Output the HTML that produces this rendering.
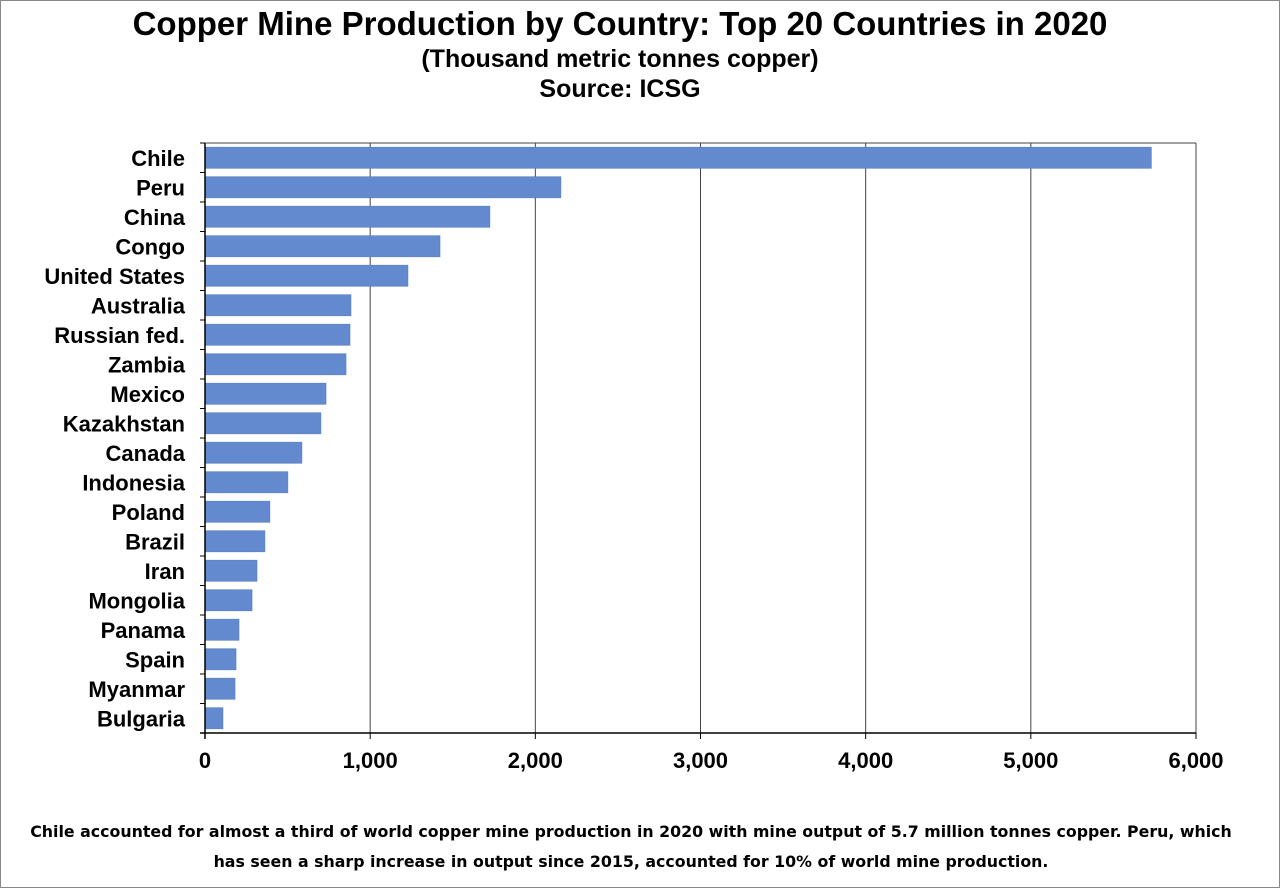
<!DOCTYPE html>
<html><head><meta charset="utf-8"><style>
html,body{margin:0;padding:0;background:#fff;}
body{width:1280px;height:888px;position:relative;overflow:hidden;font-family:"Liberation Sans",Arial,sans-serif;}
.frame{position:absolute;left:0;top:0;width:1278px;height:886px;border:1px solid #888;}
.t{position:absolute;left:0;width:1240px;text-align:center;font-weight:bold;color:#000;}
.foot{position:absolute;left:0;width:1262px;top:817px;text-align:center;font-family:"DejaVu Sans","Liberation Sans",sans-serif;font-weight:bold;font-size:15.8px;line-height:30px;}
</style></head><body>
<div class="frame"></div>
<div class="t" style="top:5px;font-size:33px;">Copper Mine Production by Country: Top 20 Countries in 2020</div>
<div class="t" style="top:45px;font-size:25px;">(Thousand metric tonnes copper)</div>
<div class="t" style="top:75px;font-size:25px;">Source: ICSG</div>
<svg id="chart" width="1280" height="888" style="position:absolute;left:0;top:0"></svg>
<div class="foot">Chile accounted for almost a third of world copper mine production in 2020 with mine output of 5.7 million tonnes copper. Peru, which<br>has seen a sharp increase in output since 2015, accounted for 10% of world mine production.</div>
<script>
const categories=["Chile","Peru","China","Congo","United States","Australia","Russian fed.","Zambia","Mexico","Kazakhstan","Canada","Indonesia","Poland","Brazil","Iran","Mongolia","Panama","Spain","Myanmar","Bulgaria"];
const values=[5730,2155,1725,1423,1229,884,878,854,733,702,587,502,393,363,315,285,206,188,182,109];
const tickValues=[0,1000,2000,3000,4000,5000,6000];
const tickLabels=["0","1,000","2,000","3,000","4,000","5,000","6,000"];
const NS="http://www.w3.org/2000/svg";
const svg=document.getElementById('chart');
const L=205,R=1196,T=143,B=733,xMax=6000;
const x=v=>L+(v/xMax)*(R-L);
const rowH=(B-T)/categories.length;
const y=i=>T+i*rowH;
function mk(tag,a){const e=document.createElementNS(NS,tag);for(const k in a)e.setAttribute(k,a[k]);svg.appendChild(e);return e;}
tickValues.forEach((v,i)=>{
 if(v>0){const g=mk('line',{x1:x(v),x2:x(v),y1:T,y2:B,stroke:'#444','stroke-width':1});
 
 }
 const tk=mk('line',{x1:x(v),x2:x(v),y1:B,y2:B+6,stroke:'#000'});
 
 
 const t=mk('text',{x:x(v),y:B+35,'text-anchor':'middle','font-size':22,'font-weight':'bold','font-family':'Liberation Sans, sans-serif'});
 t.textContent=tickLabels[i];
 
 
});
const topBorder=mk('line',{x1:L,x2:R,y1:T,y2:T,stroke:'#444'});


categories.forEach((c,i)=>{
 const bh=rowH*0.72;
 const r=mk('rect',{x:L,y:y(i)+(rowH-bh)/2,width:x(values[i])-L,height:bh,fill:'#6389cf',stroke:'#5579bd','stroke-width':0.5});
 
 
 const t=mk('text',{x:185,y:y(i)+rowH/2+8,'text-anchor':'end','font-size':22,'font-weight':'bold','font-family':'Liberation Sans, sans-serif'});
 t.textContent=c;
 
 
 const tk=mk('line',{x1:L-5,x2:L,y1:y(i),y2:y(i),stroke:'#000'});
 
 
});
const ya=mk('line',{x1:L,x2:L,y1:T,y2:B+6,stroke:'#000','stroke-width':1.5});


const xa=mk('line',{x1:L-5,x2:R,y1:B,y2:B,stroke:'#000','stroke-width':1.5});


</script>
</body></html>
